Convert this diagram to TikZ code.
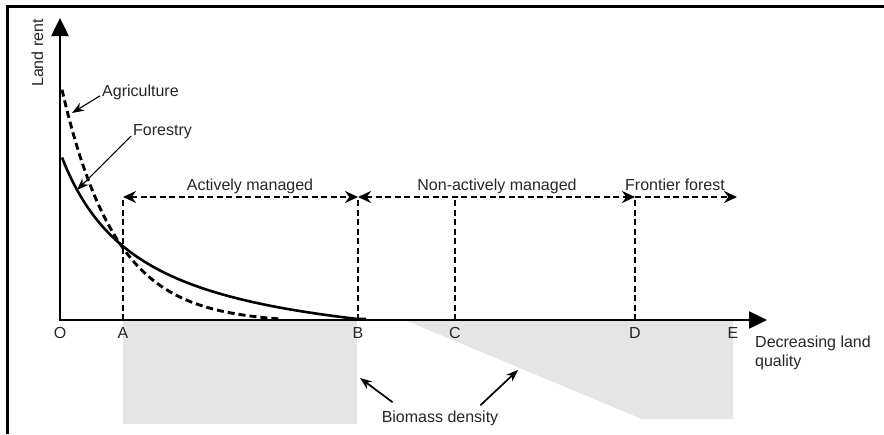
\documentclass[tikz,border=0pt]{standalone}
\usepackage{fontspec}
\setmainfont{Liberation Sans}
\usetikzlibrary{arrows.meta,positioning}

\begin{document}
\begin{tikzpicture}[
  x=1pt, y=-1pt,
  >={Stealth[length=13pt,width=12pt]},
  lbl/.style={font=\fontsize{16}{19}\selectfont, inner sep=0pt, text=black!85},
  axisline/.style={line width=2.5pt,
    {Triangle[length=18pt,width=17pt]}-{Triangle[length=18pt,width=17pt]}},
  guide/.style={line width=1.9pt, dash pattern=on 6pt off 3.5pt},
  pointer/.style={line width=1.1pt, -{Stealth[length=12pt,width=9pt]}},
  biomass/.style={fill=gray!20}
]
\useasboundingbox (0,0) rectangle (884,434);

% frame
\draw[line width=2.4pt] (7.5,434) -- (7.5,6.5) -- (884,6.5);

% axes
\coordinate (O) at (60,320);
\coordinate (ytop) at (60,18);
\coordinate (xend) at (767,320);
\draw[axisline] (ytop) -- (O) -- (xend);

% biomass density
\fill[biomass] (123,321) rectangle (357,424);
\fill[biomass] (407,321) -- (733,321) -- (733,419) -- (642,419) -- cycle;

% land classes
\foreach \n/\x in {A/123,B/358,C/455,D/635} {
  \coordinate (\n) at (\x,320);
  \coordinate (top\n) at (\x,197);
  \draw[guide] (\n) -- (top\n);
}
\coordinate (endF) at (737,197);
\draw[guide,<->] (topA) -- (topB);
\draw[guide,<->] (topB) -- (topD);
\draw[guide,->] (topD) -- (endF);

% rent curves
\draw[line width=2.6pt] plot[domain=62:366, samples=100]
  (\x, {min(320,320-((164.18/(\x+18))*100-43.7))-1});
\draw[line width=2.9pt, dash pattern=on 7pt off 4pt] plot[domain=62:280, samples=100]
  (\x, {320-(229*exp(-(\x-63)/53.7)-4)-1});

% labels
\foreach \n/\x in {O/60,A/123,B/358,C/455,D/635,E/733}
  \node[lbl] (l\n) at (\x,332.5) {\n};

\node[lbl, rotate=90] (rent) at (37.5,53) {Land rent};
\node[lbl, anchor=north west, align=left] (xlab) at (755,336) {Decreasing land\\quality};

\node[lbl, anchor=base] (act) at (250,190) {Actively managed};
\node[lbl, anchor=base] (nonact) at (497,190) {Non-actively managed};
\node[lbl, anchor=base] (front) at (675,190) {Frontier forest};

\node[lbl, anchor=base west] (agri) at (102,96) {Agriculture};
\coordinate (agri tip) at (72,113);
\draw[pointer] ([xshift=-2pt,yshift=-4pt]agri.west) -- (agri tip);

\node[lbl, anchor=base west] (fore) at (133,135) {Forestry};
\coordinate (fore tip) at (77,190);
\draw[pointer] ([xshift=-2pt,yshift=-5pt]fore.west) -- (fore tip);

\node[lbl, anchor=base] (bio) at (440,422) {Biomass density};
\coordinate (bio left) at (360,378);
\coordinate (bio right) at (518,370);
\draw[pointer, line width=1.7pt] ([xshift=11pt,yshift=8pt]bio.north west) -- (bio left);
\draw[pointer, line width=1.7pt] ([xshift=-18pt,yshift=5pt]bio.north east) -- (bio right);

\end{tikzpicture}
\end{document}
